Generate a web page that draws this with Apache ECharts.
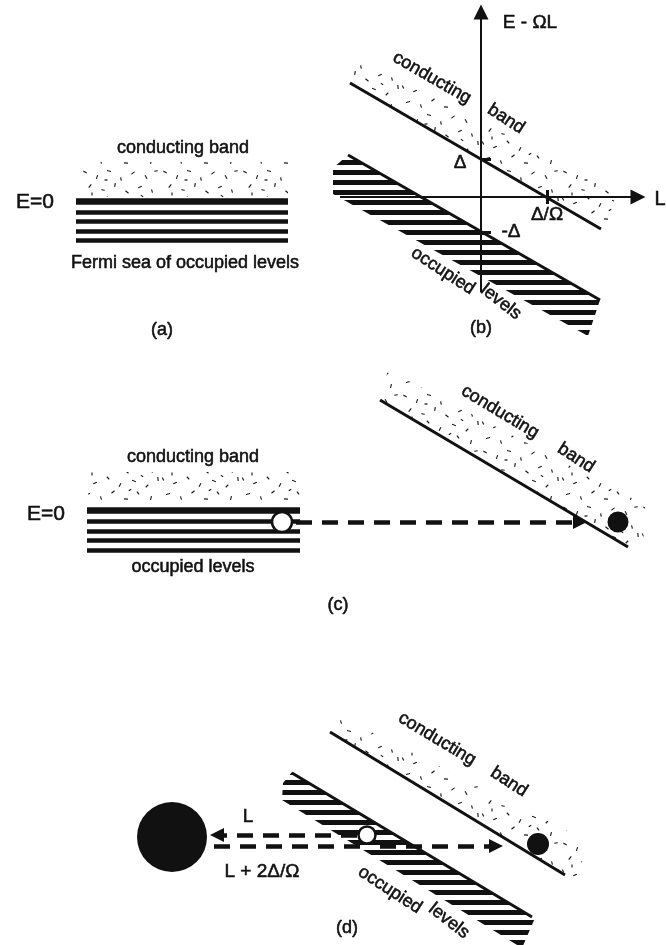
<!DOCTYPE html>
<html><head><meta charset="utf-8">
<script src="https://cdn.jsdelivr.net/npm/echarts@6/dist/echarts.min.js"></script>
<style>html,body{margin:0;padding:0;background:#fff}#c{width:666px;height:945px}</style>
</head><body><div id="c"></div>
<script>
// ---------- diagram data (diagram units = page units) ----------
const levelYA = [201, 212, 221, 231, 240];
const levelSpanA = [76, 288];
const levelYC = [510, 521, 531, 540, 550];
const levelSpanC = [87, 300];

const bandEdges = [
  [[350, 83], [601, 229]],
  [[348, 155], [600, 300]],
  [[380, 400], [628, 547]],
  [[330, 732], [565, 875]],
  [[292, 773], [532, 917]]
];
const axisLines = [
  [[481, 292], [481, 12]],
  [[340, 197], [638, 197]]
];
const tickMarks = [
  [[481, 159], [491, 159]],
  [[547, 190], [547, 204]],
  [[481, 232], [491, 232]]
];
const dashedArrows = [
  [[296, 522], [580, 522]],
  [[357, 835], [217, 835]],
  [[380, 846], [496, 846]]
];
const dashedPlain = [
  [[360, 846], [213, 846]]
];
const filledDots = [[618, 522], [172, 837], [538, 844]];
const hollowDots = [[282, 522], [367, 835]];

const speckleRegions = [
  [[80, 162], [288, 162], [288, 197], [80, 197]],
  [[88, 472], [300, 472], [300, 506], [88, 506]],
  [[358, 58], [615, 190], [612, 226], [601, 229], [350, 84]],
  [[388, 370], [645, 505], [643, 548], [628, 547], [380, 400]],
  [[332, 712], [585, 840], [580, 878], [565, 875], [330, 732]]
];
const hatchRegions = [
  [[348, 155], [600, 300], [588, 336], [333, 194], [333, 168]],
  [[292, 772], [535, 918], [522, 948], [282, 800], [283, 783]]
];

const labelText = [
  'conducting band', 'E=0', 'Fermi sea of occupied levels', '(a)',
  'E - ΩL', 'L', 'Δ', 'Δ/Ω', '-Δ', 'conducting', 'band', 'occupied', 'levels', '(b)',
  'conducting band', 'E=0', 'occupied levels', 'conducting', 'band', '(c)',
  'conducting', 'band', 'occupied', 'levels', 'L', 'L + 2Δ/Ω', '(d)'
];
const labelAt = [
  [183, 148], [35, 202], [185, 263], [162, 330],
  [530, 23], [660, 199], [460, 163], [547, 215], [511, 232], [432, 78], [506, 119], [443, 271], [501, 302], [481, 328],
  [193, 457], [46, 514], [193, 567], [500, 412], [576, 458], [338, 605],
  [437, 739], [509, 782], [390, 890], [449, 921], [248, 817], [262, 872], [347, 928]
];

// ---------- styles ----------
const INK = '#111';
const FONT = '"Liberation Sans", Arial, Helvetica, sans-serif';
const labelSize = [18, 21, 18, 18, 19, 20, 19, 19, 19, 18, 18, 18, 18, 18, 18, 21, 18, 18, 18, 18, 18, 18, 18, 18, 19, 19, 18];
const labelRot = [0, 0, 0, 0, 0, 0, 0, 0, 0, 30, 33, 33, 38, 0, 0, 0, 0, 31, 33, 0, 31, 33, 33, 38, 0, 0, 0];
const filledDotSize = [21, 70, 22];
const hollowDotSize = [20, 17];
// texture strokes for the speckled "conducting band" fill: [x, y, angleDeg, length]
const textureStrokes = [
  [5, 4, 30, 4], [17, 9, -70, 4], [29, 3, 15, 4], [41, 11, 80, 3.5], [53, 5, -35, 4], [66, 9, 60, 4], [76, 3, -10, 3.5],
  [10, 18, -50, 4], [23, 22, 10, 3.5], [35, 17, -80, 4], [47, 24, 40, 4], [60, 19, -20, 4], [72, 23, 75, 3.5],
  [3, 31, 65, 3.5], [15, 35, -25, 4], [28, 30, 45, 3.5], [40, 37, -60, 4], [54, 33, 20, 4], [67, 38, -45, 3.5], [78, 31, 85, 4],
  [8, 46, -15, 4], [21, 50, 70, 3.5], [33, 44, -40, 4], [46, 51, 5, 4], [58, 45, 55, 3.5], [71, 50, -75, 4],
  [26, 12, -5, 3], [62, 28, 35, 3], [12, 26, 90, 3], [50, 42, -30, 3]
];

function speckleTile() {
  const c = document.createElement('canvas');
  c.width = 80; c.height = 56;
  const g = c.getContext('2d');
  g.strokeStyle = '#1a1a1a'; g.lineWidth = 1.15; g.lineCap = 'butt';
  textureStrokes.forEach(([x, y, a, l]) => {
    const r = a * Math.PI / 180, dx = Math.cos(r) * l / 2, dy = Math.sin(r) * l / 2;
    g.beginPath(); g.moveTo(x - dx, y - dy); g.lineTo(x + dx, y + dy); g.stroke();
  });
  return c;
}
function hatchTile() {
  const c = document.createElement('canvas');
  c.width = 8; c.height = 10;
  const g = c.getContext('2d');
  g.fillStyle = INK; g.fillRect(0, 0, 8, 5);
  return c;
}
const speckle = speckleTile();
const hatch = hatchTile();

function polySeries(regions, tile, z) {
  return {
    type: 'custom', coordinateSystem: 'cartesian2d', z: z, silent: true, clip: false,
    data: regions.map(r => [r[0][0], r[0][1]]), encode: { x: 0, y: 1 },
    renderItem: (params, api) => ({
      type: 'polygon',
      shape: { points: regions[params.dataIndex].map(p => api.coord(p)) },
      style: { fill: { image: tile, repeat: 'repeat' }, stroke: null }
    })
  };
}
function levelData(ys, span) {
  return ys.map((y, i) => ({ coords: [[span[0], y], [span[1], y]], lineStyle: { width: i === 0 ? 6.5 : 4.5 } }));
}

const chart = echarts.init(document.getElementById('c'), null, { renderer: 'canvas' });
chart.setOption({
  animation: false,
  backgroundColor: '#fff',
  grid: { left: 0, right: 0, top: 0, bottom: 0 },
  xAxis: { type: 'value', min: 0, max: 666, show: false },
  yAxis: { type: 'value', min: 0, max: 945, inverse: true, show: false },
  series: [
    polySeries(speckleRegions, speckle, 1),
    polySeries(hatchRegions, hatch, 2),
    {
      type: 'lines', coordinateSystem: 'cartesian2d', z: 3, silent: true, symbol: 'none',
      lineStyle: { color: INK, width: 4.5, opacity: 1, curveness: 0 },
      data: levelData(levelYA, levelSpanA).concat(levelData(levelYC, levelSpanC))
    },
    {
      type: 'lines', coordinateSystem: 'cartesian2d', z: 3, silent: true, symbol: 'none',
      lineStyle: { color: INK, width: 3, opacity: 1, curveness: 0 },
      data: bandEdges.map(c => ({ coords: c }))
    },
    {
      type: 'lines', coordinateSystem: 'cartesian2d', z: 3, silent: true, symbol: 'none',
      lineStyle: { color: INK, width: 3, opacity: 1, curveness: 0 },
      data: tickMarks.map(c => ({ coords: c }))
    },
    {
      type: 'lines', coordinateSystem: 'cartesian2d', z: 3, silent: true,
      symbol: ['none', 'triangle'], symbolSize: [0, 15],
      lineStyle: { color: INK, width: 2, opacity: 1, curveness: 0 },
      data: axisLines.map(c => ({ coords: c }))
    },
    {
      type: 'lines', coordinateSystem: 'cartesian2d', z: 3, silent: true,
      symbol: ['none', 'triangle'], symbolSize: [0, 14],
      lineStyle: { color: INK, width: 4.5, opacity: 1, curveness: 0, type: [16, 10] },
      data: dashedArrows.map(c => ({ coords: c }))
    },
    {
      type: 'lines', coordinateSystem: 'cartesian2d', z: 3, silent: true, symbol: 'none',
      lineStyle: { color: INK, width: 4.5, opacity: 1, curveness: 0, type: [16, 10] },
      data: dashedPlain.map(c => ({ coords: c }))
    },
    {
      type: 'scatter', z: 4, silent: true, symbol: 'circle',
      data: filledDots.map((p, i) => ({ value: p, symbolSize: filledDotSize[i] })),
      itemStyle: { color: INK, opacity: 1 }
    },
    {
      type: 'scatter', z: 4, silent: true, symbol: 'circle',
      data: hollowDots.map((p, i) => ({ value: p, symbolSize: hollowDotSize[i] })),
      itemStyle: { color: '#fff', borderColor: INK, borderWidth: 2.5, opacity: 1 }
    },
    {
      type: 'custom', coordinateSystem: 'cartesian2d', z: 5, silent: true, clip: false,
      data: labelAt.map(p => [p[0], p[1]]), encode: { x: 0, y: 1 },
      renderItem: (params, api) => {
        const i = params.dataIndex;
        const pt = api.coord(labelAt[i]);
        return {
          type: 'text', x: pt[0], y: pt[1], rotation: -labelRot[i] * Math.PI / 180,
          style: {
            legacy: false, text: labelText[i], fill: INK, stroke: INK, lineWidth: 0.55,
            font: labelSize[i] + 'px ' + FONT, align: 'center', verticalAlign: 'middle'
          }
        };
      }
    }
  ]
});
</script></body></html>
